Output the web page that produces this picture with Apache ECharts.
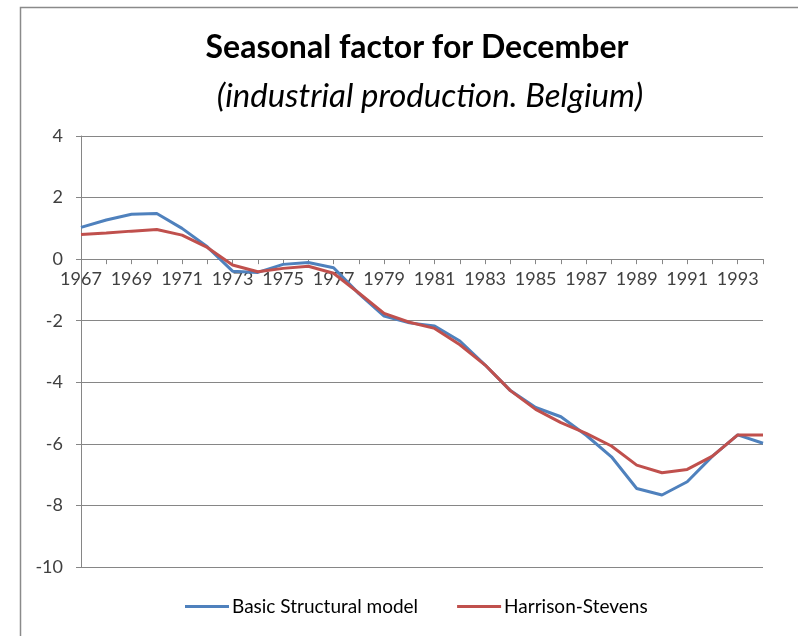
<!DOCTYPE html>
<html>
<head>
<meta charset="utf-8">
<script src="https://cdn.jsdelivr.net/npm/echarts@6/dist/echarts.min.js"></script>
<style>html,body{margin:0;padding:0;background:#fff}#c{width:798px;height:636px}</style>
</head>
<body>
<div id="c"></div>
<script>
const years = ['1967','1968','1969','1970','1971','1972','1973','1974','1975','1976','1977','1978','1979','1980','1981','1982','1983','1984','1985','1986','1987','1988','1989','1990','1991','1992','1993','1994'];
const basicStructural = [1.03,1.27,1.46,1.48,1.0,0.40,-0.39,-0.43,-0.17,-0.11,-0.28,-1.12,-1.85,-2.07,-2.17,-2.66,-3.44,-4.27,-4.82,-5.12,-5.72,-6.42,-7.45,-7.66,-7.23,-6.40,-5.71,-5.98];
const harrisonStevens = [0.80,0.85,0.91,0.96,0.78,0.38,-0.19,-0.41,-0.30,-0.23,-0.46,-1.10,-1.76,-2.05,-2.25,-2.78,-3.44,-4.27,-4.88,-5.31,-5.66,-6.07,-6.69,-6.94,-6.83,-6.40,-5.71,-5.71];
const seriesNames = ['Basic Structural model','Harrison-Stevens'];
const seriesColors = ['#4F81BD','#C0504D'];
const yTicks = {min:-10, max:4, interval:2};

const chart = echarts.init(document.getElementById('c'), null, {renderer:'canvas'});
const font = 'Lato, "Open Sans", sans-serif';
const gridTop = 136, gridH = 431;
const zeroOffset = -gridH * (0 - yTicks.min) / (yTicks.max - yTicks.min);
chart.setOption({
  animation:false,
  backgroundColor:'#fff',
  title:[
    {text:'Seasonal factor for December', left:412, textAlign:'center', top:27,
     textStyle:{fontFamily:font, fontWeight:'bold', fontSize:32, color:'#000'}},
    {text:'(industrial production. Belgium)', left:425, textAlign:'center', top:75,
     textStyle:{fontFamily:font, fontStyle:'italic', fontWeight:'normal', fontSize:33, color:'#000'}}
  ],
  graphic:[{type:'rect', shape:{x:20.5,y:7.5,width:2000,height:2000}, style:{fill:null, stroke:'#8a8a8a', lineWidth:1.5}, silent:true}],
  legend:{
    bottom:15, left:180, itemGap:39, itemWidth:44, itemHeight:3,
    textStyle:{fontFamily:font, fontSize:19, color:'#000', padding:[0,0,0,-2]},
    data:seriesNames.map((n,i)=>({name:n, icon:'rect', itemStyle:{color:seriesColors[i]}}))
  },
  grid:{left:81, top:gridTop, width:682, height:gridH, containLabel:false},
  xAxis:{
    type:'category', data:years, boundaryGap:false,
    offset:zeroOffset,
    axisLine:{onZero:false, lineStyle:{color:'#868686', width:1}},
    axisTick:{show:true, interval:0, length:5, lineStyle:{color:'#868686'}},
    axisLabel:{interval:1, margin:11, fontFamily:font, fontSize:18, color:'#404040'},
    splitLine:{show:false}
  },
  yAxis:{
    type:'value', min:yTicks.min, max:yTicks.max, interval:yTicks.interval,
    axisLine:{show:true, onZero:false, lineStyle:{color:'#868686'}},
    axisTick:{show:true, length:5, lineStyle:{color:'#868686'}},
    axisLabel:{margin:18, fontFamily:font, fontSize:18, color:'#404040'},
    splitLine:{show:true, lineStyle:{color:'#868686', width:1}}
  },
  series:[
    {name:seriesNames[0], type:'line', data:basicStructural, symbol:'none', showSymbol:false, lineStyle:{color:seriesColors[0], width:3}, itemStyle:{color:seriesColors[0]}},
    {name:seriesNames[1], type:'line', data:harrisonStevens, symbol:'none', showSymbol:false, lineStyle:{color:seriesColors[1], width:3}, itemStyle:{color:seriesColors[1]}}
  ]
});
</script>
</body>
</html>
